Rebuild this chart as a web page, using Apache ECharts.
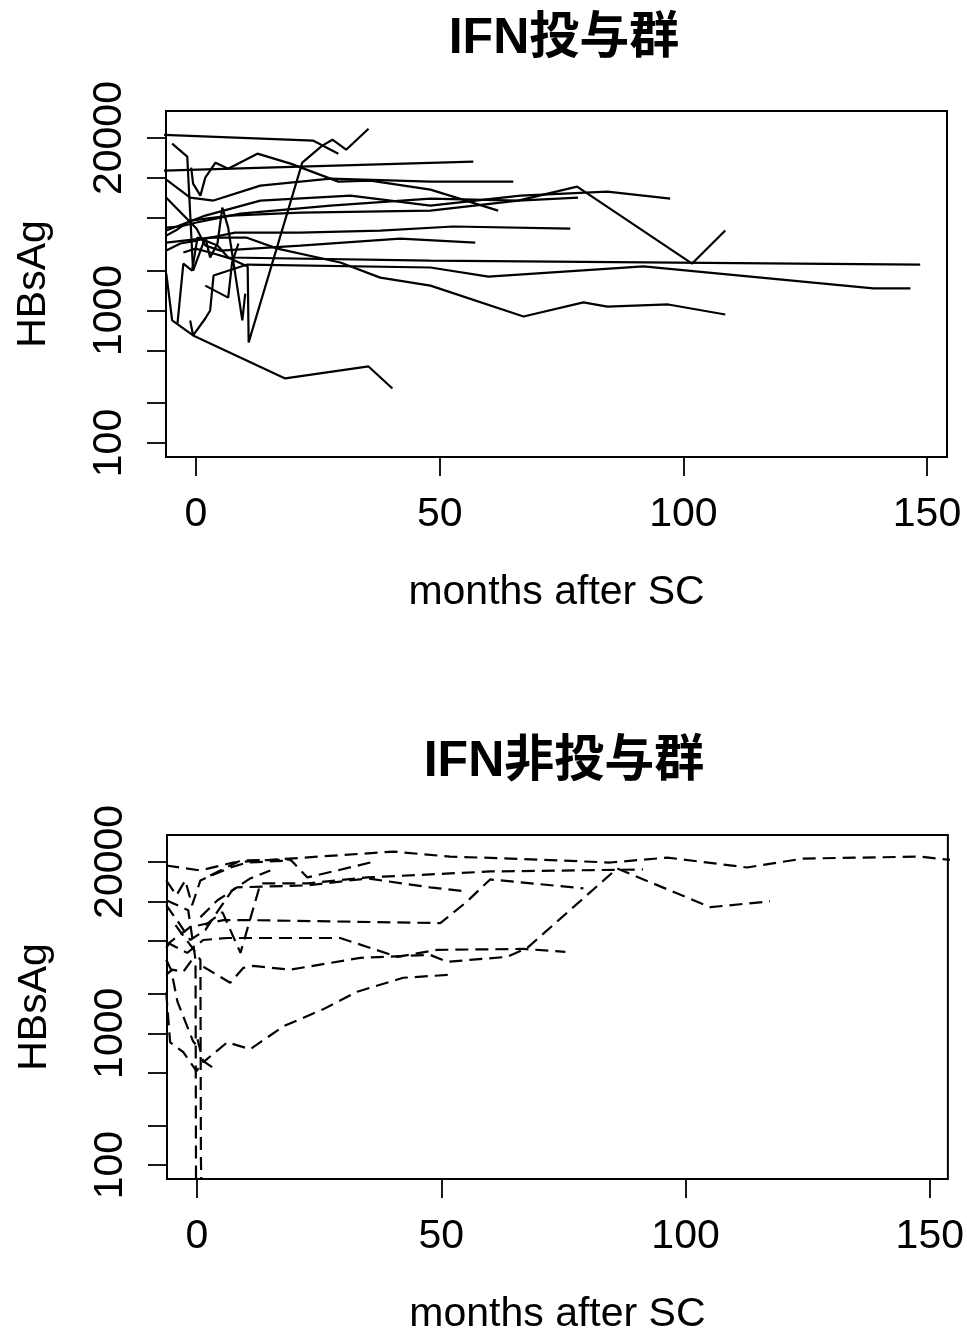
<!DOCTYPE html>
<html>
<head>
<meta charset="utf-8">
<script src="https://cdn.jsdelivr.net/npm/echarts@6/dist/echarts.min.js"></script>
<style>
  html, body { margin: 0; padding: 0; background: #fff; }
  #chart { width: 967px; height: 1336px; }
</style>
</head>
<body>
<div id="chart"></div>
<script>
// each series: [months after SC, HBsAg]
// IFN投与群 (solid)
const ifn01 = [[-7.3, 21200], [24.1, 19100], [29.2, 15250]]
const ifn02 = [[-2.6, 2740], [-0.1, 2930], [2.9, 2740], [7.0, 2470], [10.6, 2150], [10.8, 574], [21.8, 13040], [25.9, 17520], [28.0, 19440], [30.8, 16340], [35.4, 23520]]
const ifn03 = [[1.9, 1540], [6.6, 1250], [7.4, 2300], [8.7, 3200]]
const ifn04 = [[-7.3, 11350], [21.4, 12170], [56.9, 13270]]
const ifn05 = [[-6.1, 9710], [-1.2, 7100], [3.6, 6750], [13.2, 8750], [27.6, 9880], [48.1, 9380], [65.1, 9380]]
const ifn06 = [[-6.1, 7100], [0.1, 4150], [1.9, 3090], [5.0, 2830], [21.4, 3090], [41.9, 3490], [57.3, 3250]]
const ifn07 = [[-6.1, 4220], [-3.2, 4300], [0.1, 4610], [9.1, 5380], [27.6, 6180], [48.1, 6980], [66.1, 6750], [78.2, 8600], [101.8, 2260], [108.6, 4010]]
const ifn08 = [[-6.1, 4010], [1.9, 5200], [13.2, 6750], [31.7, 7360], [48.1, 6180], [66.6, 7360], [84.4, 7890], [97.3, 6980]]
const ifn09 = [[-6.1, 3670], [-4.2, 4010], [-1.2, 4770], [7.0, 5200], [21.4, 5480], [48.1, 5670], [66.1, 6750], [78.4, 7100]]
const ifn10 = [[-3.8, 798], [-2.6, 2260], [-0.8, 2000], [0.3, 3550], [4.4, 3090], [6.6, 2510], [48.1, 2380], [148.6, 2220]]
const ifn11 = [[-1.2, 841], [-0.6, 648], [1.9, 870], [2.9, 1000], [3.6, 1835], [10.5, 2220], [48.1, 2110], [60.0, 1800], [91.8, 2150], [139.0, 1470], [146.6, 1470]]
const ifn12 = [[-6.1, 3250], [2.9, 3550], [10.3, 3550], [16.7, 2930], [29.6, 2300], [37.8, 1770], [48.1, 1540], [67.2, 901], [79.5, 1150], [84.4, 1070], [96.9, 1110], [108.6, 933]]
const ifn13 = [[-6.1, 1900], [-4.9, 841], [-0.6, 648], [18.3, 307], [35.4, 378], [40.3, 258]]
const ifn14 = [[-4.9, 18140], [-1.8, 14470], [-0.6, 2000], [1.9, 3550], [2.9, 2510], [4.4, 3200], [5.4, 5970], [6.6, 4220], [9.5, 841], [10.1, 1340]]
const ifn15 = [[-1.0, 11960], [-0.6, 9060], [0.9, 7360], [1.9, 10050], [4.0, 13040], [6.6, 11750], [12.6, 15250], [19.4, 12820], [29.2, 9380], [35.8, 9540], [48.1, 8160], [62.0, 5670]]
const ifn16 = [[-6.1, 2830], [-3.2, 3200], [0.1, 3370], [8.0, 3870], [21.4, 3870], [37.8, 4010], [52.8, 4300], [76.8, 4150]]

// IFN非投与群 (dashed)
const non01 = [[-6.3, 18770], [0.7, 17220], [7.4, 19780], [13.0, 20480], [40.2, 23940], [51.8, 21940], [64.1, 21200], [84.6, 19780], [96.3, 21570], [112.6, 18140], [124.1, 21200], [148.0, 21940], [153.6, 20830], [162.4, 20830]]
const non02 = [[2.7, 15790], [8.9, 20480], [19.1, 20830], [22.6, 15250], [28.7, 17220], [35.5, 19780]]
const non03 = [[1.7, 6630], [5.2, 8310], [8.9, 4080], [13.0, 13740], [22.6, 13740], [34.9, 15250], [51.8, 16340], [60.0, 16920], [91.3, 17520]]
const non04 = [[0.7, 7620], [4.2, 10230], [8.2, 12820], [22.6, 13270], [34.9, 14980], [47.7, 12820], [54.9, 11960]]
const non05 = [[-6.3, 4450], [-5.5, 4930], [-1.4, 6400], [5.4, 7230], [10.9, 7230], [49.8, 6860], [55.1, 9880], [60.0, 14720], [79.1, 12600]]
const non06 = [[1.3, 3200], [6.8, 2420], [9.5, 3140], [11.5, 3250], [19.1, 3040], [33.4, 3740], [47.7, 3940], [51.2, 3490], [63.5, 3805], [67.6, 4450], [86.0, 17820], [105.1, 9060], [117.3, 10050]]
const non07 = [[-6.3, 4930], [-2.0, 4080], [1.3, 5110], [6.2, 5290], [29.3, 5290], [41.0, 3805], [49.2, 4300], [66.8, 4370], [75.4, 4150]]
const non08 = [[0.1, 900], [1.3, 605], [6.2, 855], [10.9, 758], [17.7, 1130], [25.8, 1520], [32.8, 2070], [42.2, 2640], [51.8, 2780]]
const non09 = [[-6.3, 10230], [-1.8, 8600], [-0.3, 3610], [-0.2, 70]]
const non10 = [[-4.4, 6630], [-0.8, 4370], [0.7, 3610], [0.8, 112], [0.9, 70]]
const non11 = [[-6.3, 2040], [-5.5, 855], [-2.8, 719], [-0.1, 517], [1.3, 615], [3.1, 554]]
const non12 = [[-6.3, 3610], [-5.3, 3040], [-4.0, 1740], [-2.8, 1340], [-0.8, 870], [-0.3, 826]]
const non13 = [[-6.3, 2780], [-5.1, 3040], [-2.8, 2930], [-0.3, 3940]]
const non14 = [[-6.3, 14470], [-4.2, 11160], [-2.4, 14470], [-1.0, 9380], [0.7, 14470], [6.8, 18140], [10.3, 19780], [19.1, 20480]]
const non15 = [[-6.3, 9380], [-3.4, 6630], [-1.4, 5110], [1.7, 6070], [3.7, 7890], [7.2, 12170], [10.9, 14980], [15.0, 17220]]

const ifnSeries = [ifn01, ifn02, ifn03, ifn04, ifn05, ifn06, ifn07, ifn08, ifn09, ifn10, ifn11, ifn12, ifn13, ifn14, ifn15, ifn16]
const nonSeries = [non01, non02, non03, non04, non05, non06, non07, non08, non09, non10, non11, non12, non13, non14, non15]

const panelTitles = ['IFN投与群', 'IFN非投与群']
const xTicks = [0, 50, 100, 150]
const yTicks = [100, 200, 500, 1000, 2000, 5000, 10000, 20000]
const yLabels = [100, 1000, 20000]

const FONT = '"Liberation Sans", Arial, sans-serif'
const TITLE_FONT = '"Liberation Sans", "Noto Sans CJK JP", sans-serif'

const chart = echarts.init(document.getElementById('chart'))

const makeX = (gridIndex, min, max) => ({
  type: 'value',
  gridIndex,
  min,
  max,
  axisLine: { show: false, onZero: false },
  splitLine: { show: false },
  axisTick: { show: true, length: 19, customValues: xTicks, lineStyle: { color: '#000', width: 1.8 } },
  axisLabel: { customValues: xTicks, margin: 37, fontSize: 41, color: '#000', fontFamily: FONT },
  name: 'months after SC',
  nameLocation: 'middle',
  nameGap: 115,
  nameTextStyle: { fontSize: 41, color: '#000', fontFamily: FONT }
})

const makeY = (gridIndex) => ({
  type: 'log',
  logBase: 10,
  gridIndex,
  min: 78.4,
  max: 32000,
  axisLine: { show: false, onZero: false },
  splitLine: { show: false },
  axisTick: { show: true, length: 19, customValues: yTicks, lineStyle: { color: '#000', width: 1.8 } },
  axisLabel: {
    customValues: yLabels,
    rotate: 90,
    margin: 36,
    fontSize: 41,
    color: '#000',
    fontFamily: FONT,
    formatter: (v) => String(Math.round(v))
  },
  name: 'HBsAg',
  nameLocation: 'middle',
  nameRotate: 90,
  nameGap: 112,
  nameTextStyle: { fontSize: 41, color: '#000', fontFamily: FONT }
})

const toSeries = (data, idx, dashed) => ({
  type: 'line',
  xAxisIndex: idx,
  yAxisIndex: idx,
  data,
  symbol: 'none',
  silent: true,
  clip: true,
  lineStyle: { color: '#000', width: 2.2, type: dashed ? [13, 7] : 'solid' }
})

const option = {
  animation: false,
  backgroundColor: '#fff',
  title: [
    { text: panelTitles[0], left: 559, top: 9, textAlign: 'center',
      textStyle: { fontSize: 50, fontWeight: 'bold', color: '#000', fontFamily: TITLE_FONT } },
    { text: panelTitles[1], left: 559, top: 732, textAlign: 'center',
      textStyle: { fontSize: 50, fontWeight: 'bold', color: '#000', fontFamily: TITLE_FONT } }
  ],
  grid: [
    { left: 166, top: 111, width: 781, height: 346, show: true, borderColor: '#000', borderWidth: 2, backgroundColor: 'transparent' },
    { left: 167, top: 835, width: 781, height: 346, show: true, borderColor: '#000', borderWidth: 2, backgroundColor: 'transparent' }
  ],
  xAxis: [makeX(0, -6.16, 154.1), makeX(1, -6.14, 153.7)],
  yAxis: [makeY(0), makeY(1)],
  series: [
    ...ifnSeries.map(d => toSeries(d, 0, false)),
    ...nonSeries.map(d => toSeries(d, 1, true))
  ]
}

chart.setOption(option)
</script>
</body>
</html>
